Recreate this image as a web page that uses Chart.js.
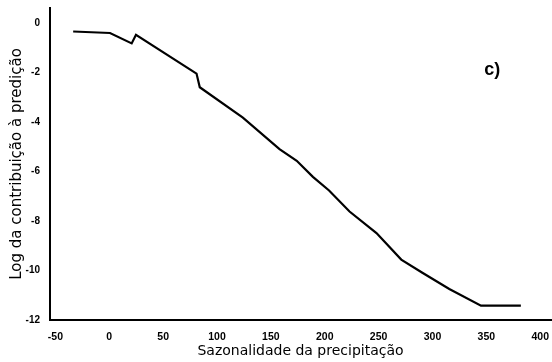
<!DOCTYPE html>
<html>
<head>
<meta charset="utf-8">
<script src="https://cdn.jsdelivr.net/npm/chart.js@4/dist/chart.umd.min.js"></script>
<style>
html,body{margin:0;padding:0;background:#fff;}
#wrap{position:relative;width:552px;height:362px;}
</style>
</head>
<body>
<div id="wrap"><canvas id="c" width="552" height="362"></canvas></div>
<script>
const xValues = [-33.5, 0.7, 20.8, 24.8, 81, 84, 124, 158, 174, 189, 204, 223, 248, 271, 290.6, 315.6, 345, 382];
const yValues = [-0.35, -0.41, -0.83, -0.48, -2.05, -2.6, -3.83, -5.1, -5.57, -6.22, -6.77, -7.62, -8.49, -9.56, -10.09, -10.75, -11.42, -11.42];
const xTicks = [-50, 0, 50, 100, 150, 200, 250, 300, 350, 400];
const yTicks = [-12, -10, -8, -6, -4, -2, 0];
const xTitle = 'Sazonalidade da precipitação';
const yTitle = 'Log da contribuição à predição';
const panelLabel = 'c)';

const points = xValues.map((x, i) => ({x: x, y: yValues[i]}));

const labelPlugin = {
  id: 'panelLabel',
  afterDraw(chart) {
    const ctx = chart.ctx;
    const xs = chart.scales.x, ys = chart.scales.y;
    ctx.save();
    ctx.fillStyle = '#000';
    ctx.font = 'bold 18px "Liberation Sans", Arial, sans-serif';
    ctx.textAlign = 'left';
    ctx.textBaseline = 'middle';
    ctx.fillText(panelLabel, xs.getPixelForValue(348), ys.getPixelForValue(-1.9));
    ctx.restore();
  }
};

new Chart(document.getElementById('c'), {
  type: 'scatter',
  data: {
    datasets: [{
      data: points,
      showLine: true,
      borderColor: '#000',
      borderWidth: 2.2,
      pointRadius: 0,
      fill: false,
      tension: 0
    }]
  },
  options: {
    responsive: false,
    devicePixelRatio: 1,
    animation: false,
    layout: {padding: {top: -3, right: 0, left: 8, bottom: 2}},
    plugins: {legend: {display: false}, tooltip: {enabled: false}},
    scales: {
      x: {
        type: 'linear',
        min: -55,
        max: 410,
        afterBuildTicks(scale) { scale.ticks = xTicks.map(v => ({value: v})); },
        afterFit(scale) { scale.height = 40; },
        grid: {display: false},
        border: {display: true, color: '#000', width: 2},
        ticks: {
          color: '#000',
          padding: 3,
          maxRotation: 0,
          font: {family: '"Liberation Sans", Arial, sans-serif', size: 10.5, weight: 'bold'},
          callback: v => String(v)
        },
        title: {
          display: true,
          text: xTitle,
          color: '#000',
          padding: {top: 0, bottom: 0},
          font: {family: '"DejaVu Sans", sans-serif', size: 14}
        }
      },
      y: {
        type: 'linear',
        min: -12,
        max: 0.6,
        afterBuildTicks(scale) { scale.ticks = yTicks.map(v => ({value: v})); },
        afterFit(scale) { scale.width = 42; },
        grid: {display: false},
        border: {display: true, color: '#000', width: 2},
        ticks: {
          color: '#000',
          padding: 2,
          font: {family: '"Liberation Sans", Arial, sans-serif', size: 10, weight: 'bold'},
          callback: v => String(v)
        },
        title: {
          display: true,
          text: yTitle,
          color: '#000',
          padding: {top: 0, bottom: 0},
          font: {family: '"DejaVu Sans", sans-serif', size: 15}
        }
      }
    }
  },
  plugins: [labelPlugin]
});
</script>
</body>
</html>
